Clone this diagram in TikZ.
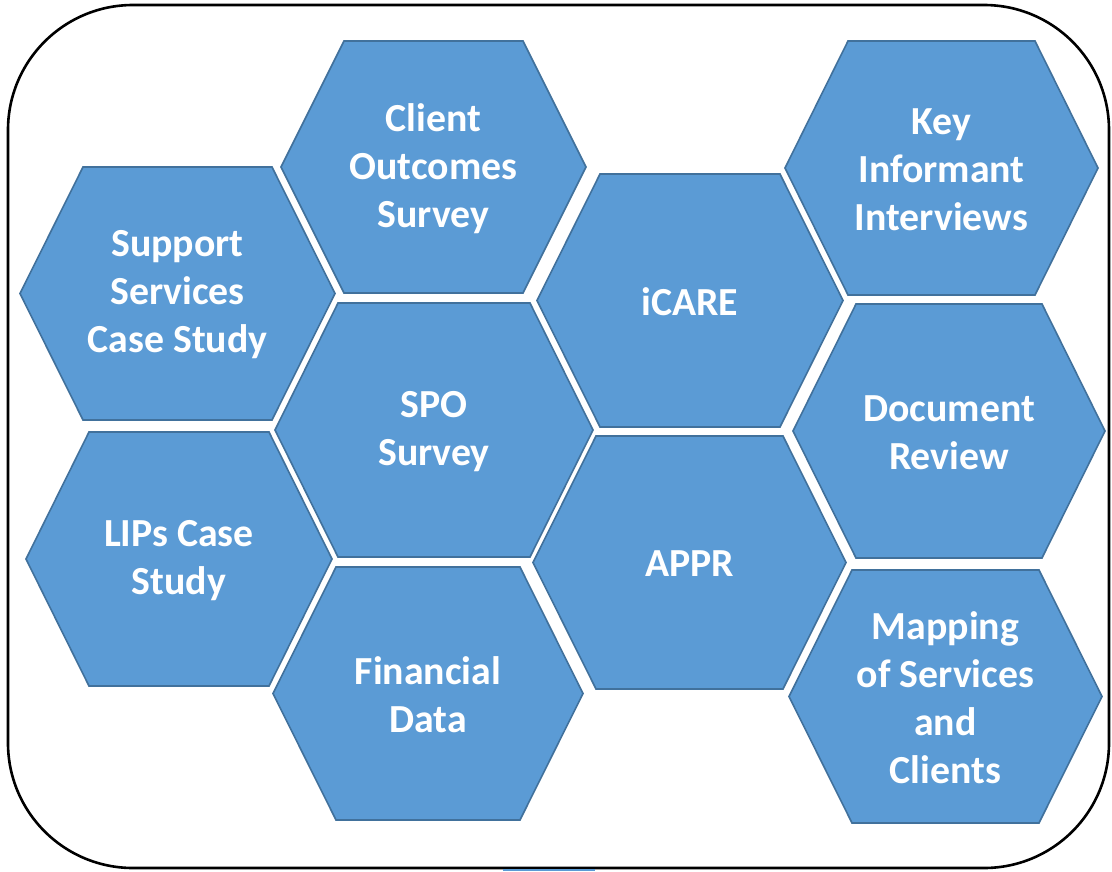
\documentclass[tikz,border=0pt]{standalone}
\usepackage{fontspec}
\newfontfamily\hexfont{Carlito}
\definecolor{hexfill}{HTML}{5B9BD5}
\definecolor{hexline}{HTML}{41719C}
\tikzset{
  hexshape/.style={fill=hexfill, draw=hexline, line width=1.6pt, line join=miter},
  hexlabel/.style={text=white, align=center, inner sep=0pt,
    font=\hexfont\bfseries\fontsize{39.8}{48}\selectfont},
  frame/.style={draw=black, line width=2.6pt, rounded corners=125pt}
}
% hexagon: name, left x, right x, top y, bottom y, inset, label
\newcommand\hexcell[7]{%
  \draw[hexshape] (#2,{(#4+#5)/2}) -- ({#2+#6},#4) -- ({#3-#6},#4)
    -- (#3,{(#4+#5)/2}) -- ({#3-#6},#5) -- ({#2+#6},#5) -- cycle;
  \node[hexlabel] (#1) at ({(#2+#3)/2},{(#4+#5)/2+1.5}) {#7};%
}
\begin{document}
\begin{tikzpicture}[x=1pt, y=-1pt]
  \useasboundingbox[fill=white] (0,0) rectangle (1112,871);
  % outer frame
  \draw[frame] (8,5) rectangle (1109,868);
  \fill[hexfill] (503,869) rectangle (595,871);
  % left column
  \hexcell{support}{20}{335}{167}{420}{63}{Support\\Services\\Case Study}
  \hexcell{lips}{26}{332}{432}{686}{63}{LIPs Case\\Study}
  % second column
  \hexcell{client}{281}{586}{41}{293}{63}{Client\\Outcomes\\Survey}
  \hexcell{spo}{275}{593}{303}{557}{63}{SPO\\Survey}
  \hexcell{financial}{273}{583}{567}{820}{63}{Financial\\Data}
  % third column
  \hexcell{icare}{537}{843}{174}{427}{63}{iCARE}
  \hexcell{appr}{533}{846}{436}{689}{63}{APPR}
  % right column
  \hexcell{keyinf}{785}{1098}{41}{295}{63}{Key\\Informant\\Interviews}
  \hexcell{docrev}{793}{1105}{304}{558}{63}{Document\\Review}
  \hexcell{mapping}{789}{1102}{570}{823}{63}{Mapping\\of Services\\and\\Clients}
\end{tikzpicture}
\end{document}
